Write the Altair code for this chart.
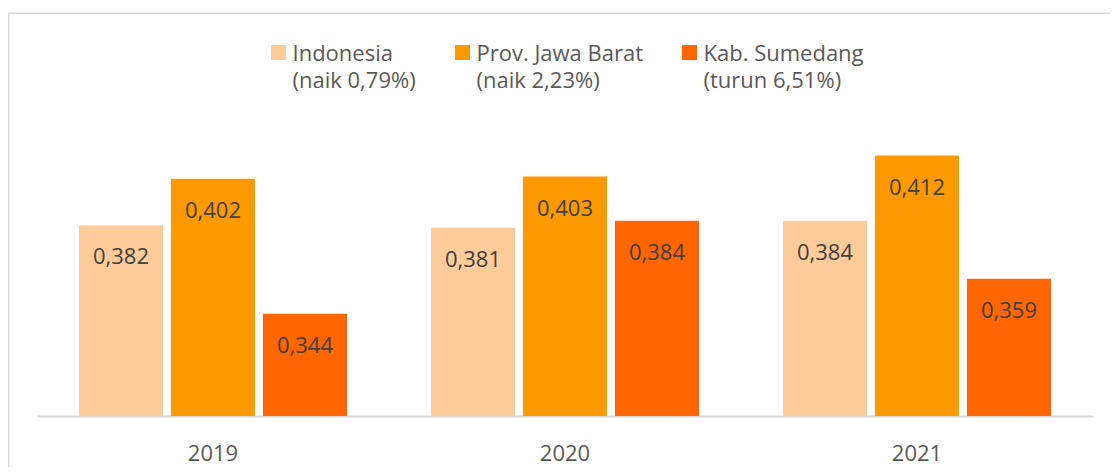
import altair as alt
import pandas as pd

years = ["2019", "2020", "2021"]
series = ["Indonesia", "Prov. Jawa Barat", "Kab. Sumedang"]
notes = ["(naik 0,79%)", "(naik 2,23%)", "(turun 6,51%)"]
indonesia = [0.382, 0.381, 0.384]
jawa_barat = [0.402, 0.403, 0.412]
sumedang = [0.344, 0.384, 0.359]
colors = ["#FFCC99", "#FF9900", "#FF6600"]
y_min, y_max = 0.30, 0.42

rows = []
for s, vals in zip(series, [indonesia, jawa_barat, sumedang]):
    for y, v in zip(years, vals):
        rows.append({"year": y, "series": s, "value": v,
                     "label": f"{v:.3f}".replace(".", ",")})
df = pd.DataFrame(rows)
legend_df = pd.DataFrame({
    "idx": list(range(len(series))),
    "series": series,
    "text": [f"{s}\n{n}" for s, n in zip(series, notes)],
})

FONT = "Open Sans"
color = alt.Color("series:N", scale=alt.Scale(domain=series, range=colors), legend=None)

x_bar = alt.X(
    "year:N",
    scale=alt.Scale(domain=years, paddingInner=84 / 352, paddingOuter=42 / 352),
    axis=alt.Axis(title=None, domainColor="#d9d9d9", domainWidth=2, ticks=False, tickSize=0,
                  labelFont=FONT, labelFontSize=22, labelColor="#595959",
                  labelPadding=37, labelAngle=0, labelBaseline="middle"),
)
x_off = alt.XOffset("series:N", scale=alt.Scale(domain=series, paddingInner=8 / 92, paddingOuter=0))
y_bar = alt.Y("value:Q", scale=alt.Scale(domain=[y_min, y_max], zero=False, nice=False, clamp=True),
              axis=None)

bars = alt.Chart(df).mark_bar().encode(
    x=x_bar, xOffset=x_off, y=y_bar, y2=alt.datum(y_min), color=color
)
labels = alt.Chart(df).mark_text(
    baseline="middle", dy=32, fontSize=22, font=FONT, color="#404040"
).encode(x=x_bar, xOffset=x_off, y=y_bar, text="label:N")
bar_layer = alt.layer(bars, labels)

x_leg = alt.X("idx:Q", scale=alt.Scale(domain=[0, 1, 2], range=[241.5, 425.5, 652.5]), axis=None)
leg_sq = alt.Chart(legend_df).mark_square(size=225, opacity=1).encode(
    x=x_leg, y=alt.value(-84.5), color=color
)
leg_txt = alt.Chart(legend_df).mark_text(
    align="left", baseline="alphabetic", dx=14, lineBreak="\n", lineHeight=27,
    fontSize=22, font=FONT, color="#595959"
).encode(x=x_leg, y=alt.value(-76), text="text:N")
legend_layer = alt.layer(leg_sq, leg_txt)

frame = alt.Chart(alt.Data(values=[{}])).mark_rect(
    fillOpacity=0, stroke="#d9d9d9", strokeWidth=1.5
).encode(x=alt.value(-28.25), x2=alt.value(1200), y=alt.value(-123.7), y2=alt.value(500))

chart = alt.layer(frame, bar_layer, legend_layer).resolve_scale(x="independent").properties(
    width=1056, height=279,
    autosize=alt.AutoSizeParams(type="none"),
    padding={"left": 29, "top": 129, "right": 17, "bottom": 51},
).configure_view(strokeWidth=0)

chart.save("out.html", embed_options={"renderer": "svg", "actions": False})
